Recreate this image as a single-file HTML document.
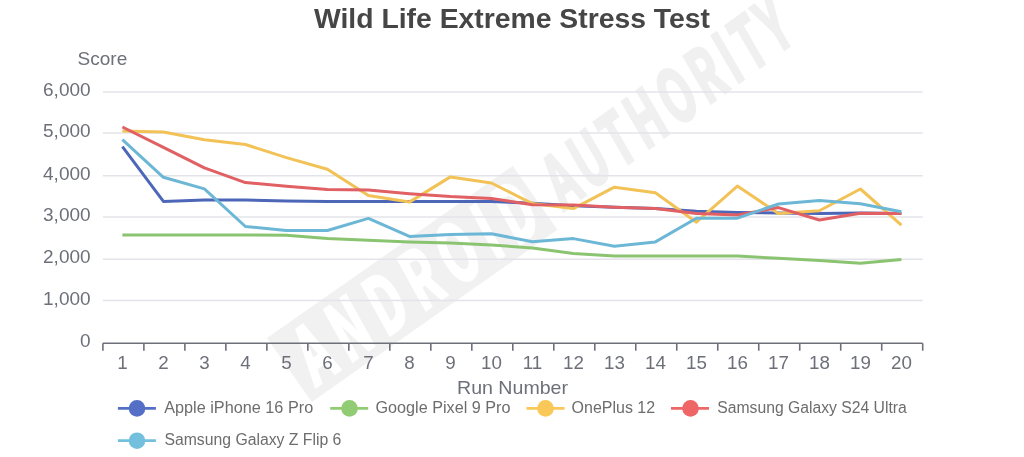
<!DOCTYPE html>
<html><head><meta charset="utf-8"><title>Wild Life Extreme Stress Test</title>
<style>
html,body{margin:0;padding:0;background:#fff;}
body{width:1024px;height:457px;overflow:hidden;position:relative;}
svg{position:absolute;left:0;top:0;}
text{font-family:"Liberation Sans","Noto Sans CJK SC",sans-serif;}
</style></head><body>
<svg width="1024" height="457" viewBox="0 0 1024 457">
<rect width="1024" height="457" fill="#fff"/>

<g transform="translate(267,338) rotate(-35)">
<rect x="0" y="0" width="300" height="78" fill="#f1f1f1"/>
<g transform="translate(0,68) skewX(-6)">
<text transform="scale(0.6,1)" x="20.0" y="0" font-size="78" font-weight="bold" style="font-family:'Noto Sans CJK SC','Liberation Sans',sans-serif" fill="#fff" stroke="#fff" stroke-width="3" textLength="463.3" lengthAdjust="spacing">ANDROID</text>
</g></g>
<g transform="translate(563.5,210.9) rotate(-36.2) skewX(-6)">
<text transform="scale(0.6,1)" x="0" y="0" font-size="72" font-weight="bold" style="font-family:'Noto Sans CJK SC','Liberation Sans',sans-serif" fill="#f0f0f0" stroke="#f0f0f0" stroke-width="3" textLength="481.7" lengthAdjust="spacing">AUTHORITY</text>
</g>
<line x1="102.9" y1="92.0" x2="922.7" y2="92.0" stroke="#e3e4e9" stroke-width="1.5"/>
<line x1="102.9" y1="132.9" x2="922.7" y2="132.9" stroke="#e3e4e9" stroke-width="1.5"/>
<line x1="102.9" y1="175.7" x2="922.7" y2="175.7" stroke="#e3e4e9" stroke-width="1.5"/>
<line x1="102.9" y1="217.0" x2="922.7" y2="217.0" stroke="#e3e4e9" stroke-width="1.5"/>
<line x1="102.9" y1="259.3" x2="922.7" y2="259.3" stroke="#e3e4e9" stroke-width="1.5"/>
<line x1="102.9" y1="300.5" x2="922.7" y2="300.5" stroke="#e3e4e9" stroke-width="1.5"/>
<line x1="102.9" y1="343.3" x2="922.7" y2="343.3" stroke="#6E7079" stroke-width="1.6"/>
<line x1="102.90" y1="343.3" x2="102.90" y2="350.7" stroke="#6E7079" stroke-width="1.6"/>
<line x1="143.89" y1="343.3" x2="143.89" y2="350.7" stroke="#6E7079" stroke-width="1.6"/>
<line x1="184.88" y1="343.3" x2="184.88" y2="350.7" stroke="#6E7079" stroke-width="1.6"/>
<line x1="225.87" y1="343.3" x2="225.87" y2="350.7" stroke="#6E7079" stroke-width="1.6"/>
<line x1="266.86" y1="343.3" x2="266.86" y2="350.7" stroke="#6E7079" stroke-width="1.6"/>
<line x1="307.85" y1="343.3" x2="307.85" y2="350.7" stroke="#6E7079" stroke-width="1.6"/>
<line x1="348.84" y1="343.3" x2="348.84" y2="350.7" stroke="#6E7079" stroke-width="1.6"/>
<line x1="389.83" y1="343.3" x2="389.83" y2="350.7" stroke="#6E7079" stroke-width="1.6"/>
<line x1="430.82" y1="343.3" x2="430.82" y2="350.7" stroke="#6E7079" stroke-width="1.6"/>
<line x1="471.81" y1="343.3" x2="471.81" y2="350.7" stroke="#6E7079" stroke-width="1.6"/>
<line x1="512.80" y1="343.3" x2="512.80" y2="350.7" stroke="#6E7079" stroke-width="1.6"/>
<line x1="553.79" y1="343.3" x2="553.79" y2="350.7" stroke="#6E7079" stroke-width="1.6"/>
<line x1="594.78" y1="343.3" x2="594.78" y2="350.7" stroke="#6E7079" stroke-width="1.6"/>
<line x1="635.77" y1="343.3" x2="635.77" y2="350.7" stroke="#6E7079" stroke-width="1.6"/>
<line x1="676.76" y1="343.3" x2="676.76" y2="350.7" stroke="#6E7079" stroke-width="1.6"/>
<line x1="717.75" y1="343.3" x2="717.75" y2="350.7" stroke="#6E7079" stroke-width="1.6"/>
<line x1="758.74" y1="343.3" x2="758.74" y2="350.7" stroke="#6E7079" stroke-width="1.6"/>
<line x1="799.73" y1="343.3" x2="799.73" y2="350.7" stroke="#6E7079" stroke-width="1.6"/>
<line x1="840.72" y1="343.3" x2="840.72" y2="350.7" stroke="#6E7079" stroke-width="1.6"/>
<line x1="881.71" y1="343.3" x2="881.71" y2="350.7" stroke="#6E7079" stroke-width="1.6"/>
<line x1="922.70" y1="343.3" x2="922.70" y2="350.7" stroke="#6E7079" stroke-width="1.6"/>
<text x="90.6" y="96.1" font-size="19" fill="#6E7079" text-anchor="end">6,000</text>
<text x="90.6" y="137.0" font-size="19" fill="#6E7079" text-anchor="end">5,000</text>
<text x="90.6" y="179.8" font-size="19" fill="#6E7079" text-anchor="end">4,000</text>
<text x="90.6" y="221.1" font-size="19" fill="#6E7079" text-anchor="end">3,000</text>
<text x="90.6" y="263.4" font-size="19" fill="#6E7079" text-anchor="end">2,000</text>
<text x="90.6" y="304.6" font-size="19" fill="#6E7079" text-anchor="end">1,000</text>
<text x="90.6" y="347.4" font-size="19" fill="#6E7079" text-anchor="end">0</text>
<text x="102.4" y="64.6" font-size="19" fill="#6E7079" text-anchor="middle">Score</text>
<text x="122.4" y="368.7" font-size="18.8" fill="#6E7079" text-anchor="middle">1</text>
<text x="163.4" y="368.7" font-size="18.8" fill="#6E7079" text-anchor="middle">2</text>
<text x="204.4" y="368.7" font-size="18.8" fill="#6E7079" text-anchor="middle">3</text>
<text x="245.4" y="368.7" font-size="18.8" fill="#6E7079" text-anchor="middle">4</text>
<text x="286.4" y="368.7" font-size="18.8" fill="#6E7079" text-anchor="middle">5</text>
<text x="327.4" y="368.7" font-size="18.8" fill="#6E7079" text-anchor="middle">6</text>
<text x="368.4" y="368.7" font-size="18.8" fill="#6E7079" text-anchor="middle">7</text>
<text x="409.4" y="368.7" font-size="18.8" fill="#6E7079" text-anchor="middle">8</text>
<text x="450.4" y="368.7" font-size="18.8" fill="#6E7079" text-anchor="middle">9</text>
<text x="491.4" y="368.7" font-size="18.8" fill="#6E7079" text-anchor="middle">10</text>
<text x="532.4" y="368.7" font-size="18.8" fill="#6E7079" text-anchor="middle">11</text>
<text x="573.4" y="368.7" font-size="18.8" fill="#6E7079" text-anchor="middle">12</text>
<text x="614.4" y="368.7" font-size="18.8" fill="#6E7079" text-anchor="middle">13</text>
<text x="655.4" y="368.7" font-size="18.8" fill="#6E7079" text-anchor="middle">14</text>
<text x="696.4" y="368.7" font-size="18.8" fill="#6E7079" text-anchor="middle">15</text>
<text x="737.4" y="368.7" font-size="18.8" fill="#6E7079" text-anchor="middle">16</text>
<text x="778.4" y="368.7" font-size="18.8" fill="#6E7079" text-anchor="middle">17</text>
<text x="819.4" y="368.7" font-size="18.8" fill="#6E7079" text-anchor="middle">18</text>
<text x="860.4" y="368.7" font-size="18.8" fill="#6E7079" text-anchor="middle">19</text>
<text x="901.4" y="368.7" font-size="18.8" fill="#6E7079" text-anchor="middle">20</text>
<text x="457" y="394.3" font-size="18.5" fill="#6E7079" textLength="111" lengthAdjust="spacingAndGlyphs">Run Number</text>
<polyline points="122.4,146.7 163.4,201.4 204.4,200.1 245.4,200.1 286.4,200.9 327.4,201.4 368.4,201.4 409.4,201.4 450.4,201.4 491.4,201.6 532.4,203.2 573.4,205.8 614.4,207.3 655.4,208.6 696.4,211.3 737.4,212.4 778.4,213 819.4,213.5 860.4,213 901.4,213.6" fill="none" stroke="#4d67b8" stroke-width="3" stroke-linejoin="round"/>
<polyline points="122.4,234.9 163.4,234.9 204.4,234.9 245.4,234.9 286.4,235.3 327.4,238.6 368.4,240.3 409.4,242.1 450.4,243 491.4,244.9 532.4,248 573.4,253.5 614.4,256.1 655.4,256.1 696.4,256.1 737.4,256.1 778.4,258.3 819.4,260.5 860.4,263.3 901.4,259.6" fill="none" stroke="#8bc471" stroke-width="3" stroke-linejoin="round"/>
<polyline points="122.4,131 163.4,132 204.4,139.7 245.4,144.5 286.4,157.6 327.4,169.2 368.4,195.5 409.4,202.1 450.4,176.9 491.4,183 532.4,203.6 573.4,208.6 614.4,187.2 655.4,192.7 696.4,222.2 737.4,186.1 778.4,213.5 819.4,210.8 860.4,189 901.4,225.1" fill="none" stroke="#f2c256" stroke-width="3" stroke-linejoin="round"/>
<polyline points="122.4,127.0 163.4,147.4 204.4,167.9 245.4,182.6 286.4,186.2 327.4,189.6 368.4,190 409.4,193.7 450.4,196.6 491.4,198.5 532.4,204.7 573.4,205.1 614.4,207.3 655.4,208.6 696.4,213.5 737.4,215 778.4,207.6 819.4,220 860.4,213.3 901.4,213.4" fill="none" stroke="#e06064" stroke-width="3" stroke-linejoin="round"/>
<polyline points="122.4,139.7 163.4,177.3 204.4,188.9 245.4,226.5 286.4,230.5 327.4,230.5 368.4,218.4 409.4,236.4 450.4,234.4 491.4,233.8 532.4,241.7 573.4,238.6 614.4,246.2 655.4,241.9 696.4,218.3 737.4,218.2 778.4,204 819.4,200.6 860.4,203.8 901.4,211.8" fill="none" stroke="#6cb7d6" stroke-width="3" stroke-linejoin="round"/>
<text x="314" y="27.9" font-size="28" font-weight="bold" fill="#464646" textLength="396" lengthAdjust="spacingAndGlyphs">Wild Life Extreme Stress Test</text>
<line x1="117.9" y1="408.4" x2="155.9" y2="408.4" stroke="#5470c6" stroke-width="2.8"/>
<circle cx="137.0" cy="408.4" r="8.3" fill="#5470c6"/>
<text x="164.2" y="412.6" font-size="16" fill="#6d6d6d" textLength="149" lengthAdjust="spacingAndGlyphs">Apple iPhone 16 Pro</text>
<line x1="330.2" y1="408.4" x2="368.2" y2="408.4" stroke="#91cc75" stroke-width="2.8"/>
<circle cx="349.5" cy="408.4" r="8.3" fill="#91cc75"/>
<text x="375.5" y="412.6" font-size="16" fill="#6d6d6d" textLength="135" lengthAdjust="spacingAndGlyphs">Google Pixel 9 Pro</text>
<line x1="526.5" y1="408.4" x2="564.5" y2="408.4" stroke="#fac858" stroke-width="2.8"/>
<circle cx="545.5" cy="408.4" r="8.3" fill="#fac858"/>
<text x="571.6" y="412.6" font-size="16" fill="#6d6d6d" textLength="83.5" lengthAdjust="spacingAndGlyphs">OnePlus 12</text>
<line x1="671.0" y1="408.4" x2="709.0" y2="408.4" stroke="#ee6666" stroke-width="2.8"/>
<circle cx="690.5" cy="408.4" r="8.3" fill="#ee6666"/>
<text x="717.3" y="412.6" font-size="16" fill="#6d6d6d" textLength="189.5" lengthAdjust="spacingAndGlyphs">Samsung Galaxy S24 Ultra</text>
<line x1="117.9" y1="440.7" x2="155.9" y2="440.7" stroke="#73c0de" stroke-width="2.8"/>
<circle cx="137.0" cy="440.7" r="8.3" fill="#73c0de"/>
<text x="164.4" y="444.9" font-size="16" fill="#6d6d6d" textLength="177" lengthAdjust="spacingAndGlyphs">Samsung Galaxy Z Flip 6</text>
</svg></body></html>
